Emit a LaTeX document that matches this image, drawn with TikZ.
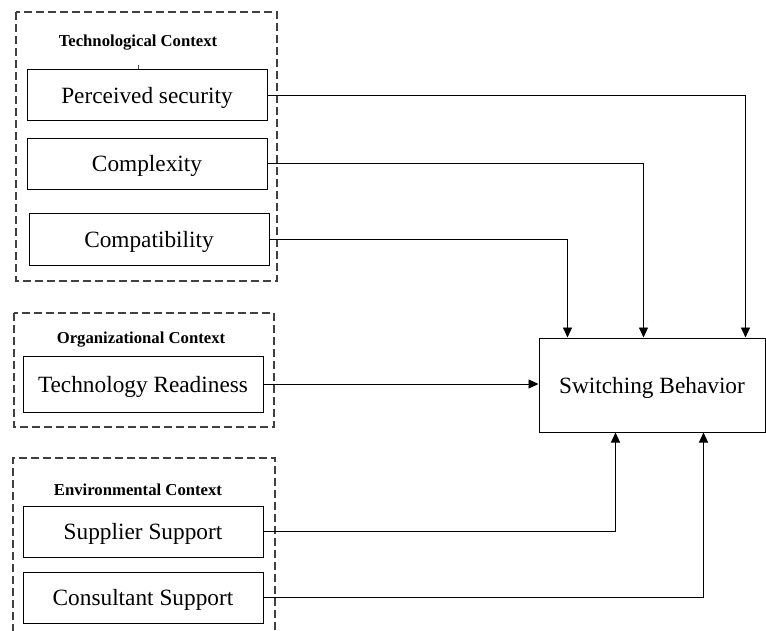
\documentclass[tikz,border=0pt]{standalone}
\usepackage{fontspec}
\setmainfont{Liberation Serif}
\usetikzlibrary{arrows.meta}

\begin{document}
\begin{tikzpicture}[x=1pt,y=-1pt,
  factor/.style={draw=black,line width=1pt,rectangle,minimum width=240pt,
    minimum height=51pt,inner sep=0pt,text depth=0pt,
    font=\fontsize{23.3}{28}\selectfont},
  context/.style={draw=black!75,line width=1.1pt,dash pattern=on 8pt off 4pt},
  ctxtitle/.style={font=\fontsize{16.7}{20}\selectfont\bfseries,inner sep=0pt},
  link/.style={draw=black,line width=0.9pt},
  arr/.style={link,-{Triangle[length=10pt,width=9pt]}}]
\useasboundingbox (0,0) rectangle (766,630);

% context groups (dashed frames)
\draw[context] (16,12) rectangle (277,281);
\draw[context] (14,313) rectangle (274,427);
\draw[context] (13,632) -- (13,458) -- (275,458) -- (275,632);

\node[ctxtitle] (tctx) at (138,43) {Technological Context};
\node[ctxtitle] (octx) at (141,340) {Organizational Context};
\node[ctxtitle] (ectx) at (138,490) {Environmental Context};

% factors
\node[factor] (ps) at (147,95) {Perceived security};
\node[factor] (cx) at (147,163.5) {Complexity};
\node[factor,minimum height=52pt] (cp) at (149,239) {Compatibility};
\node[factor,minimum height=56pt] (tr) at (143,384) {Technology Readiness};
\node[factor] (ss) at (143,531.5) {Supplier Support};
\node[factor] (cs) at (143,597.5) {Consultant Support};

% outcome
\node[draw=black,line width=1pt,rectangle,minimum width=226pt,minimum height=94pt,
  inner sep=0pt,text depth=0pt,font=\fontsize{23.3}{28}\selectfont] (sb) at (652,385) {Switching Behavior};

% small tick above the first factor
\draw[black!70,line width=0.6pt] (ps.north) ++(-9,0) coordinate (tk) -- ++(0,-4);

% connectors
\draw[arr] (ps.east) -| ([xshift=207pt]sb.north west);
\draw[arr] (cx.east) -| ([xshift=105pt]sb.north west);
\draw[arr] (cp.east) -| ([xshift=29pt]sb.north west);
\draw[arr] (tr.east) -- (tr.east -| sb.west);
\draw[arr] (ss.east) -| ([xshift=77pt]sb.south west);
\draw[arr] (cs.east) -| ([xshift=165pt]sb.south west);
\end{tikzpicture}
\end{document}
